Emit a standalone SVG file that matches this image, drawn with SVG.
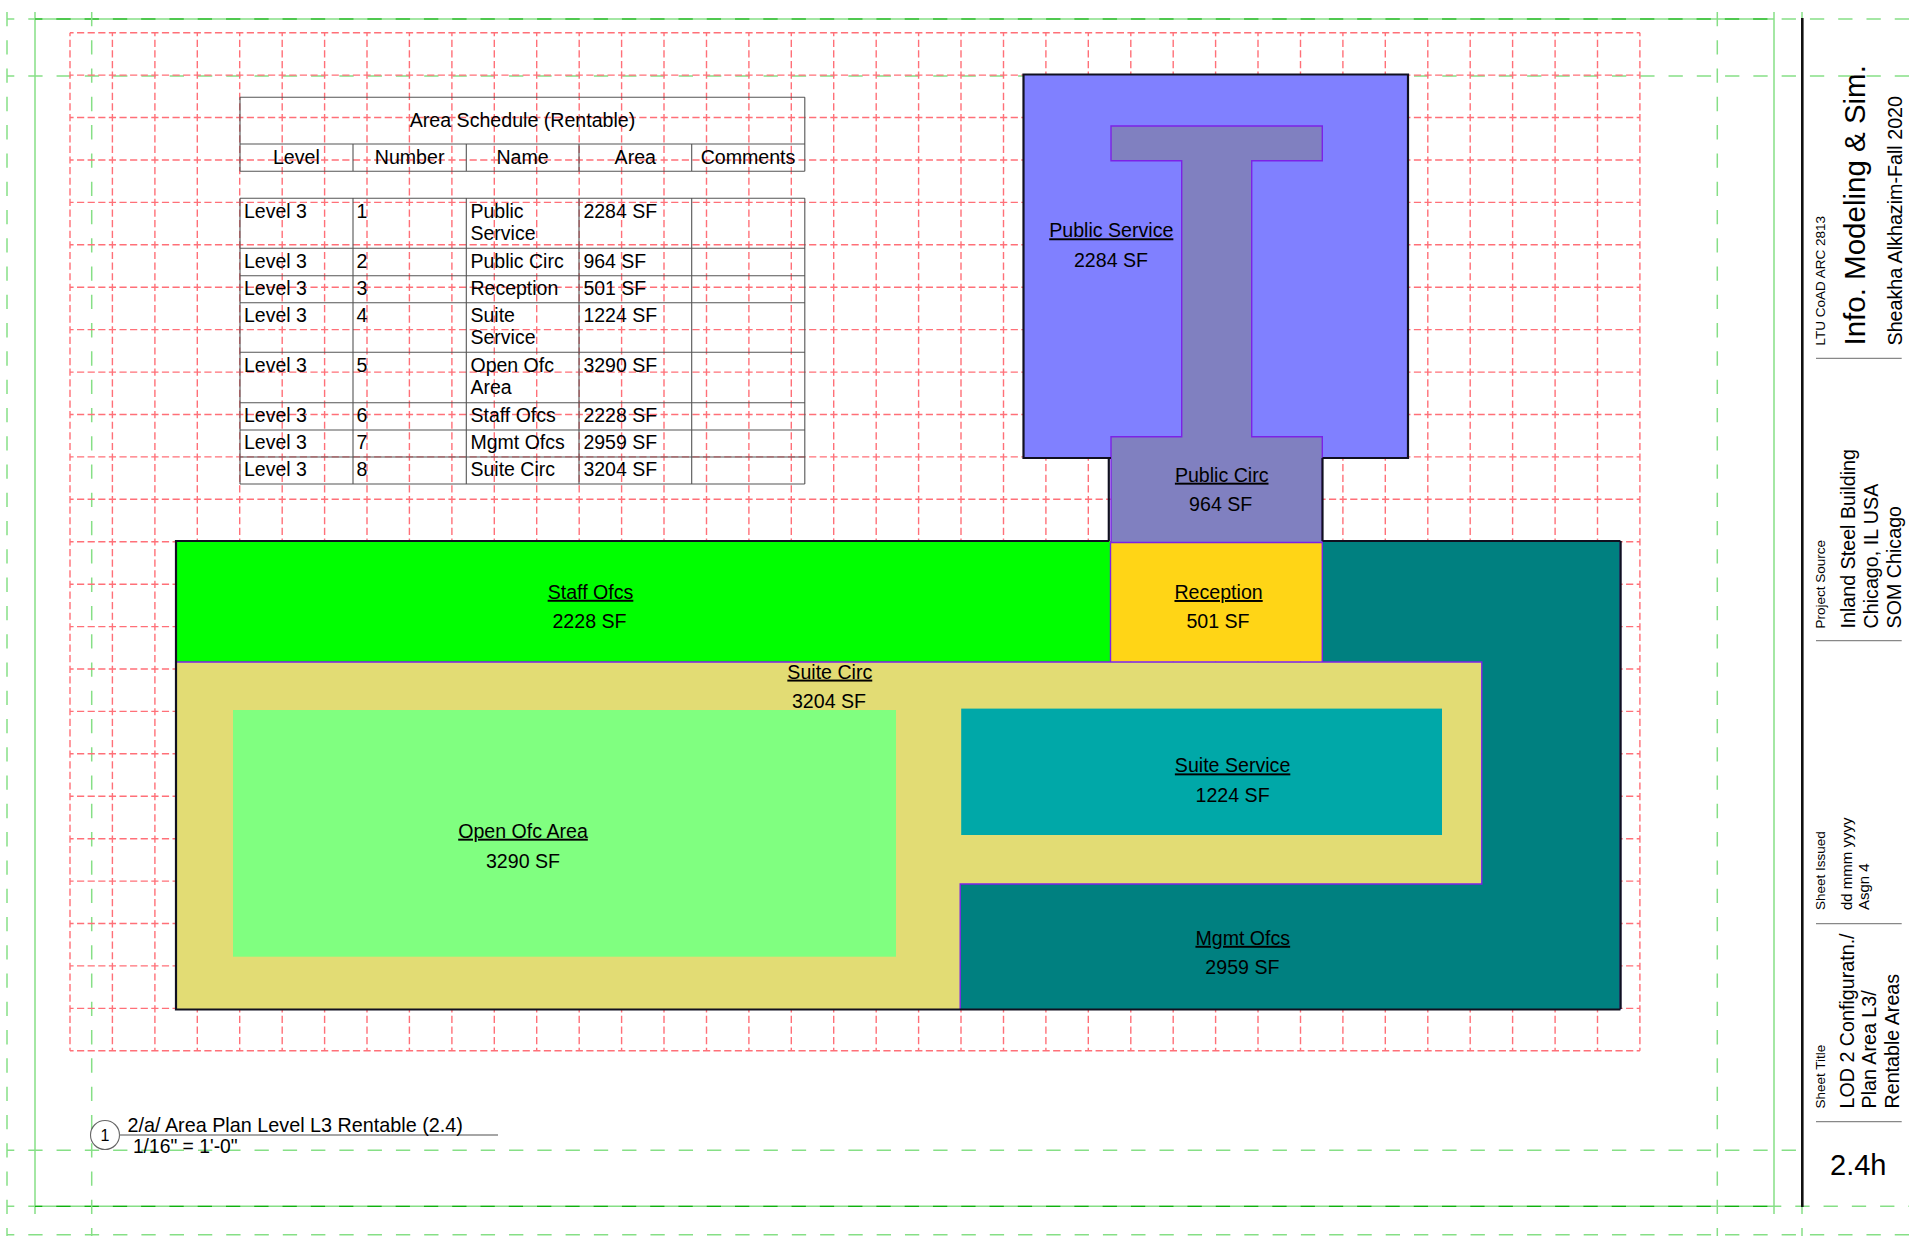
<svg xmlns="http://www.w3.org/2000/svg" width="1920" height="1242" viewBox="0 0 1920 1242">
<style>
text{font-family:"Liberation Sans",Arial,sans-serif;fill:#000}
.g{fill:none;stroke:#86df86;stroke-width:1.5}
.gd{stroke-dasharray:14.3 13.98}
.gdark{fill:none;stroke:#10b010;stroke-width:1.2;stroke-dasharray:14.3 13.98}
.r{fill:none;stroke:#ff7078;stroke-width:1.4;stroke-dasharray:7.2 3.41;stroke-dashoffset:3.6}
.tb{fill:none;stroke:#555;stroke-width:1.1}
.t{font-size:19.5px}
.c{font-size:19.6px;text-anchor:middle}
.a{font-size:19.6px;text-anchor:middle}
.u{text-decoration:underline}
.edge{fill:none;stroke:#7c22e6;stroke-width:1.4}
.out{fill:none;stroke:#101020;stroke-width:2.2}
.sep{stroke:#888;stroke-width:1.2}
.s{font-size:13.5px}
.m{font-size:19.7px}
</style>
<rect width="1920" height="1242" fill="#fff"/>
<g id="guides-green">
<path class="g gd" stroke-dashoffset="7" d="M7 19H1909M7 76H1909M7 1150.3H1802M7 1206.3H35M1774 1206.3H1909M7 1234.7H1909"/>
<path class="g" d="M35 19H1774M35 1206.3H1774M35 12V1214M1774 12V1214"/>
<path class="gdark" stroke-dashoffset="7" d="M35 19H1774M35 1206.3H1774"/>
<path class="g gd" d="M7 12V1236M91.7 12V1236M1717.3 12V1236M1802 12V1236"/>
</g>
<g id="grid-red">
<path class="r" d="M70 32.7V1050.8M112.4 32.7V1050.8M154.9 32.7V1050.8M197.3 32.7V1050.8M239.7 32.7V1050.8M282.2 32.7V1050.8M324.6 32.7V1050.8M367 32.7V1050.8M409.4 32.7V1050.8M451.9 32.7V1050.8M494.3 32.7V1050.8M536.7 32.7V1050.8M579.2 32.7V1050.8M621.6 32.7V1050.8M664 32.7V1050.8M706.5 32.7V1050.8M748.9 32.7V1050.8M791.3 32.7V1050.8M833.7 32.7V1050.8M876.2 32.7V1050.8M918.6 32.7V1050.8M961 32.7V1050.8M1003.5 32.7V1050.8M1045.9 32.7V1050.8M1088.3 32.7V1050.8M1130.8 32.7V1050.8M1173.2 32.7V1050.8M1215.6 32.7V1050.8M1258 32.7V1050.8M1300.5 32.7V1050.8M1342.9 32.7V1050.8M1385.3 32.7V1050.8M1427.8 32.7V1050.8M1470.2 32.7V1050.8M1512.6 32.7V1050.8M1555.1 32.7V1050.8M1597.5 32.7V1050.8M1639.9 32.7V1050.8"/>
<path class="r" d="M70 32.7H1639.9M70 75.1H1639.9M70 117.5H1639.9M70 160H1639.9M70 202.4H1639.9M70 244.8H1639.9M70 287.2H1639.9M70 329.6H1639.9M70 372.1H1639.9M70 414.5H1639.9M70 456.9H1639.9M70 499.3H1639.9M70 541.7H1639.9M70 584.2H1639.9M70 626.6H1639.9M70 669H1639.9M70 711.4H1639.9M70 753.8H1639.9M70 796.3H1639.9M70 838.7H1639.9M70 881.1H1639.9M70 923.5H1639.9M70 965.9H1639.9M70 1008.4H1639.9M70 1050.8H1639.9"/>
</g>
<g id="schedule">
<path class="tb" d="M240 97.3H804.8M240 144H804.8M240 171.3H804.8M240 198.3H804.8M240 248.3H804.8M240 275.7H804.8M240 302.7H804.8M240 352.3H804.8M240 402.7H804.8M240 430H804.8M240 457H804.8M240 484H804.8M240 97.3V171.3M804.8 97.3V171.3M353 144V171.3M466.3 144V171.3M579 144V171.3M691.7 144V171.3M240 198.3V484M353 198.3V484M466.3 198.3V484M579 198.3V484M691.7 198.3V484M804.8 198.3V484"/>
<text class="c" x="522.5" y="126.7">Area Schedule (Rentable)</text>
<text class="c" x="296.4" y="164">Level</text><text class="c" x="409.6" y="164">Number</text><text class="c" x="522.6" y="164">Name</text><text class="c" x="635.3" y="164">Area</text><text class="c" x="748" y="164">Comments</text>
<text class="t" x="244" y="218.3">Level 3</text><text class="t" x="356.5" y="218.3">1</text><text class="t" x="470.5" y="218.3">Public</text><text class="t" x="470.5" y="240.3">Service</text><text class="t" x="583.4" y="218.3">2284 SF</text>
<text class="t" x="244" y="268.3">Level 3</text><text class="t" x="356.5" y="268.3">2</text><text class="t" x="470.5" y="268.3">Public Circ</text><text class="t" x="583.4" y="268.3">964 SF</text>
<text class="t" x="244" y="295">Level 3</text><text class="t" x="356.5" y="295">3</text><text class="t" x="470.5" y="295">Reception</text><text class="t" x="583.4" y="295">501 SF</text>
<text class="t" x="244" y="322.3">Level 3</text><text class="t" x="356.5" y="322.3">4</text><text class="t" x="470.5" y="322.3">Suite</text><text class="t" x="470.5" y="344.3">Service</text><text class="t" x="583.4" y="322.3">1224 SF</text>
<text class="t" x="244" y="372.3">Level 3</text><text class="t" x="356.5" y="372.3">5</text><text class="t" x="470.5" y="372.3">Open Ofc</text><text class="t" x="470.5" y="394.3">Area</text><text class="t" x="583.4" y="372.3">3290 SF</text>
<text class="t" x="244" y="422">Level 3</text><text class="t" x="356.5" y="422">6</text><text class="t" x="470.5" y="422">Staff Ofcs</text><text class="t" x="583.4" y="422">2228 SF</text>
<text class="t" x="244" y="449.3">Level 3</text><text class="t" x="356.5" y="449.3">7</text><text class="t" x="470.5" y="449.3">Mgmt Ofcs</text><text class="t" x="583.4" y="449.3">2959 SF</text>
<text class="t" x="244" y="476">Level 3</text><text class="t" x="356.5" y="476">8</text><text class="t" x="470.5" y="476">Suite Circ</text><text class="t" x="583.4" y="476">3204 SF</text>
</g>
<g id="public-service"><rect x="1023.5" y="74.5" width="384.5" height="383.5" fill="#8080ff"/></g>
<g id="mgmt-ofcs"><path d="M1322 542H1620.4V1009.5H960.2V884H1481.8V662H1322Z" fill="#008080"/></g>
<g id="staff-ofcs"><rect x="176" y="541" width="934.5" height="121" fill="#00ff00"/></g>
<g id="suite-circ"><path d="M176 662H1481.8V884H960.2V1009.5H176Z" fill="#e2dc74"/></g>
<g id="open-ofc-area"><rect x="233" y="710" width="663" height="246.7" fill="#80ff80"/></g>
<g id="suite-service"><rect x="961.2" y="708.6" width="480.8" height="126.4" fill="#00a8a8"/></g>
<g id="reception"><rect x="1110.5" y="542.5" width="211.8" height="119.2" fill="#ffd516"/></g>
<g id="public-circ"><path d="M1111 126H1322.3V160.7H1251.7V436.7H1322.3V542.5H1111V436.7H1181.7V160.7H1111Z" fill="#8080c0"/></g>
<g id="connectors">
<path class="edge" d="M1111 126H1322.3V160.7H1251.7V436.7H1322.3V542.5H1111V436.7H1181.7V160.7H1111Z"/>
<path class="edge" stroke-width="1" d="M1110.5 542.5V662M1322.3 542.5V662M176 662H1481.8V884H960.2V1009.5M1620.4 542V1009.5"/>
<path class="out" d="M1111 458H1023.5V74.5H1408V458H1322.5M1322.5 458V541M1322.5 541H1620.4M1109 541H176V1009.5H1620.4"/>
<path class="out" stroke-width="3.5" d="M1108.8 458V541"/>
<path class="out" stroke-width="1.2" d="M1620.6 541V1009"/>
</g>
<g id="labels">
<text class="a u" x="1111.3" y="237.3">Public Service</text><text class="a" x="1111" y="266.7">2284 SF</text>
<text class="a u" x="1221.7" y="481.7">Public Circ</text><text class="a" x="1220.7" y="511.3">964 SF</text>
<text class="a u" x="590.5" y="598.8">Staff Ofcs</text><text class="a" x="589.5" y="628.3">2228 SF</text>
<text class="a u" x="1218.6" y="599">Reception</text><text class="a" x="1218" y="628.3">501 SF</text>
<text class="a u" x="829.8" y="678.6">Suite Circ</text><text class="a" x="829" y="708">3204 SF</text>
<text class="a u" x="523" y="837.7">Open Ofc Area</text><text class="a" x="523" y="867.5">3290 SF</text>
<text class="a u" x="1232.6" y="772.4">Suite Service</text><text class="a" x="1232.6" y="802">1224 SF</text>
<text class="a u" x="1242.8" y="944.8">Mgmt Ofcs</text><text class="a" x="1242.4" y="974.2">2959 SF</text>
</g>
<g id="view-title">
<circle cx="105" cy="1135" r="14.5" fill="none" stroke="#666" stroke-width="1.1"/>
<text x="105" y="1140.5" font-size="16" text-anchor="middle">1</text>
<line x1="119.5" y1="1135" x2="498" y2="1135" stroke="#888" stroke-width="1.6"/>
<text x="127.5" y="1131.7" font-size="19.8">2/a/ Area Plan Level L3 Rentable (2.4)</text>
<text x="132.9" y="1153.3" font-size="19.3">1/16" = 1'-0"</text>
</g>
<g id="title-block">
<line x1="1802.3" y1="18" x2="1802.3" y2="1207" stroke="#111" stroke-width="2.6"/>
<line class="sep" x1="1816" y1="358.4" x2="1901.7" y2="358.4"/>
<line class="sep" x1="1816" y1="640.6" x2="1901.7" y2="640.6"/>
<line class="sep" x1="1816" y1="923.6" x2="1901.7" y2="923.6"/>
<line class="sep" x1="1816" y1="1121.6" x2="1901.7" y2="1121.6"/>
<text class="s" transform="translate(1825 345.5) rotate(-90)">LTU CoAD ARC 2813</text>
<text font-size="29.5" transform="translate(1865 345.5) rotate(-90)">Info. Modeling &amp; Sim.</text>
<text class="m" transform="translate(1901.5 345.5) rotate(-90)">Sheakha Alkhazim-Fall 2020</text>
<text class="s" transform="translate(1825 628.5) rotate(-90)">Project Source</text>
<text class="m" transform="translate(1855 628.5) rotate(-90)">Inland Steel Building</text>
<text class="m" transform="translate(1877.5 628.5) rotate(-90)">Chicago, IL USA</text>
<text class="m" transform="translate(1901 628.5) rotate(-90)">SOM Chicago</text>
<text class="s" transform="translate(1825 910) rotate(-90)">Sheet Issued</text>
<text font-size="15" transform="translate(1851.5 910) rotate(-90)">dd mmm yyyy</text>
<text font-size="15" transform="translate(1869 910) rotate(-90)">Asgn 4</text>
<text class="s" transform="translate(1825 1108.5) rotate(-90)">Sheet Title</text>
<text class="m" transform="translate(1854 1108.5) rotate(-90)">LOD 2 Configuratn./</text>
<text class="m" transform="translate(1876 1108.5) rotate(-90)">Plan Area L3/</text>
<text class="m" transform="translate(1898.5 1108.5) rotate(-90)">Rentable Areas</text>
<text x="1830" y="1175" font-size="29">2.4h</text>
</g>
</svg>
